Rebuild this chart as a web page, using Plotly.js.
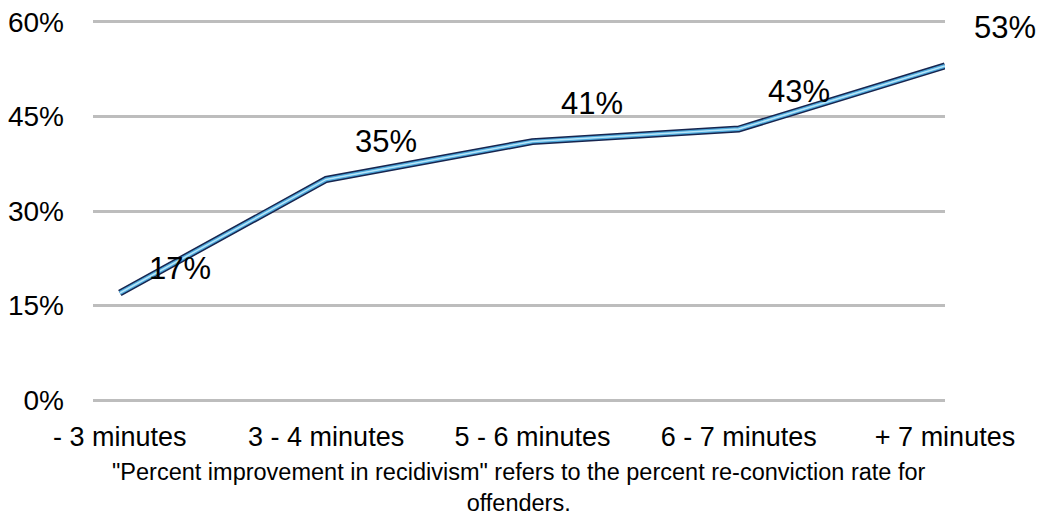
<!DOCTYPE html>
<html>
<head>
<meta charset="utf-8">
<script src="https://cdn.plot.ly/plotly-3.0.1.min.js"></script>
<style>html,body{margin:0;padding:0;background:#fff;}#chart{width:1045px;height:519px;}</style>
</head>
<body>
<div id="chart"></div>
<script>
const categories = ["- 3 minutes", "3 - 4 minutes", "5 - 6 minutes", "6 - 7 minutes", "+ 7 minutes"];
const values = [17, 35, 41, 43, 53];
const yTicks = [0, 15, 30, 45, 60];
const caption = '"Percent improvement in recidivism" refers to the percent re-conviction rate for<br>offenders.';

const xIdx = categories.map((c, i) => i);
const FONT = "Liberation Sans, Arial, Helvetica, sans-serif";

const traces = [
  {x: xIdx, y: values, mode: "lines", line: {color: "#16254f", width: 7}, hoverinfo: "skip", showlegend: false},
  {x: xIdx, y: values, mode: "lines", line: {color: "#4fa9dc", width: 4}, hoverinfo: "skip", showlegend: false},
  {x: xIdx, y: values, mode: "lines", line: {color: "#b9e6f8", width: 1.5}, showlegend: false}
];

const annotations = values.map((v, i) => ({
  x: i, y: v, xref: "x", yref: "y", text: v + "%", showarrow: false,
  xshift: 60, yshift: i === 0 ? 24 : 38,
  font: {family: FONT, size: 31, color: "#000"}
}));
annotations.push({
  x: 0.5, y: -0.137, xref: "paper", yref: "paper", xanchor: "center", yanchor: "top",
  text: caption, showarrow: false, align: "center",
  font: {family: FONT, size: 23.5, color: "#000"}
});

const layout = {
  width: 1045, height: 519,
  margin: {l: 93, r: 100, t: 18, b: 115},
  paper_bgcolor: "#fff", plot_bgcolor: "#fff",
  font: {family: FONT, color: "#000"},
  xaxis: {
    range: [-0.13, 4], tickvals: xIdx, ticktext: categories,
    showgrid: false, zeroline: false, showline: false, ticks: "",
    tickfont: {family: FONT, size: 27, color: "#000"}, ticklabelstandoff: 14
  },
  yaxis: {
    range: [-0.6, 60.6], tickvals: yTicks, ticktext: yTicks.map(t => t + "%"),
    showgrid: true, gridcolor: "#bdbdbd", gridwidth: 3,
    zeroline: false, showline: false, ticks: "",
    tickfont: {family: FONT, size: 28, color: "#000"}, ticklabelstandoff: 28
  },
  annotations: annotations,
  showlegend: false
};

Plotly.newPlot("chart", traces, layout, {displayModeBar: false, staticPlot: true});
</script>
</body>
</html>
